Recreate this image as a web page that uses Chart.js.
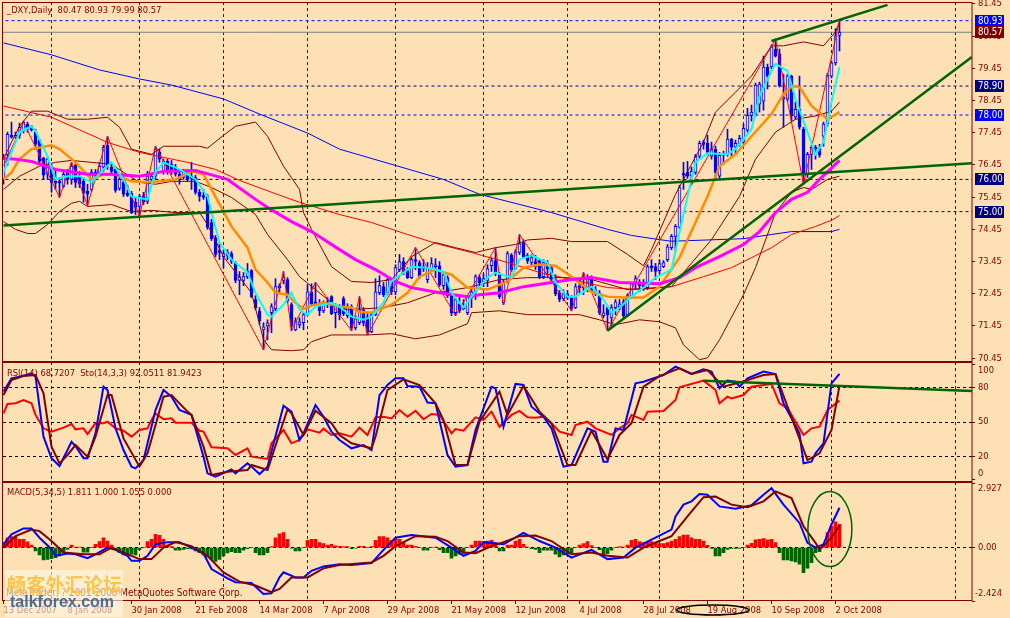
<!DOCTYPE html>
<html>
<head>
<meta charset="utf-8">
<title>DXY Daily</title>
<script src="https://cdn.jsdelivr.net/npm/chart.js@4/dist/chart.umd.min.js"></script>
<style>
  html, body { margin: 0; padding: 0; background: #fde1b4; }
  canvas { display: block; }
</style>
</head>
<body>
<canvas id="myChart" width="1010" height="618"></canvas>
<script>
// candles, one entry per trading day
const opens = [
  76.00,76.78,77.37,77.31,77.37,77.50,77.72,77.65,77.47,77.22,
  76.66,76.16,76.38,75.94,75.94,75.78,76.22,76.00,76.44,76.10,
  75.94,75.63,75.69,76.22,76.22,76.38,77.06,76.38,76.31,75.72,
  75.91,75.57,75.57,75.29,75.16,75.50,75.32,76.00,76.10,76.84,
  76.25,76.56,76.47,76.38,76.16,76.06,76.25,76.10,76.06,75.60,
  75.50,75.47,74.66,74.19,73.79,73.60,73.73,73.70,73.42,72.86,
  72.86,72.98,73.17,72.27,71.92,71.33,71.45,71.86,71.99,72.70,
  72.86,72.89,72.11,71.33,71.49,71.55,71.80,72.51,72.20,72.14,
  71.92,72.20,72.36,71.86,72.08,72.30,71.77,72.05,71.39,71.55,
  71.95,71.73,71.27,71.80,72.48,72.67,72.48,72.82,72.51,73.20,
  73.45,73.17,72.95,73.51,73.42,73.29,72.89,73.23,73.29,73.32,
  72.70,72.95,72.42,71.86,72.14,72.05,71.86,72.33,72.51,72.95,
  72.82,72.86,73.32,73.48,73.04,72.17,72.82,73.64,73.23,73.73,
  74.04,73.64,73.42,73.45,73.48,72.98,73.42,73.26,72.89,72.48,
  72.30,72.45,72.33,72.02,72.70,72.70,72.64,72.95,72.58,72.48,
  71.77,72.02,71.70,72.02,72.05,72.20,71.80,72.36,72.76,72.76,
  72.80,72.64,73.32,73.29,73.17,73.29,73.51,73.88,74.23,74.51,
  76.19,76.22,76.10,76.22,76.72,77.16,77.12,76.72,76.94,76.10,
  76.81,76.78,77.25,77.00,77.12,77.16,77.53,77.99,78.03,78.34,
  78.43,79.49,79.49,80.05,79.90,78.49,78.49,79.21,77.93,78.18,
  77.56,76.16,76.78,77.00,76.97,77.34,77.72,79.21,79.62,80.47
];
const closes = [
  76.63,77.40,77.31,77.37,77.62,77.78,77.56,77.53,77.09,76.56,
  76.13,76.63,75.91,75.88,75.88,76.16,76.00,76.41,75.91,75.85,
  75.57,75.54,76.22,76.10,76.41,77.00,76.41,76.25,75.66,76.00,
  75.54,75.50,74.97,75.13,75.47,75.29,76.10,76.10,76.94,76.63,
  76.56,76.25,76.31,76.16,76.00,76.22,76.00,76.03,75.60,75.47,
  75.44,74.51,74.16,73.67,73.73,73.70,73.64,73.45,72.86,72.98,
  72.98,73.14,72.36,72.02,71.61,71.42,71.55,72.05,72.67,72.64,
  72.95,72.23,71.45,71.61,71.58,71.80,72.51,72.14,72.14,71.92,
  72.17,72.14,71.83,72.08,71.80,71.83,72.02,71.39,71.67,71.95,
  71.55,71.27,71.80,72.51,72.70,72.42,72.89,72.51,73.26,73.45,
  73.11,72.95,73.51,73.45,72.98,73.23,73.26,73.39,73.35,72.73,
  73.04,72.39,71.86,72.27,71.92,71.99,72.36,72.51,72.98,72.79,
  72.92,73.23,73.48,73.07,72.36,72.82,73.70,73.20,73.76,74.01,
  73.60,73.48,73.57,73.29,72.98,73.42,73.23,72.92,72.45,72.27,
  72.45,72.33,71.99,72.67,72.64,72.64,72.95,72.55,72.45,71.86,
  71.86,71.80,72.02,72.20,72.14,71.77,72.39,72.76,72.92,72.70,
  72.64,73.29,73.26,73.14,73.39,73.42,73.91,74.23,74.54,75.75,
  76.13,76.10,76.25,76.72,77.12,77.09,76.84,76.94,76.22,76.75,
  76.75,77.25,77.00,77.12,77.28,77.59,77.99,78.09,78.93,78.96,
  79.49,79.21,80.11,79.83,78.90,78.56,79.21,77.97,78.18,77.62,
  76.16,76.78,77.00,76.94,76.75,77.72,79.24,79.62,80.46,80.57
];
const highs = [
  76.78,77.47,77.78,77.47,77.75,77.81,77.78,77.68,77.56,77.25,
  76.69,76.69,76.47,76.25,76.06,76.31,76.31,76.53,76.50,76.25,
  76.06,75.85,76.31,76.31,76.53,77.06,77.34,76.47,76.38,76.06,
  76.00,75.82,75.63,75.44,75.54,75.60,76.25,76.16,77.03,76.94,
  76.63,76.63,76.59,76.47,76.25,76.31,76.31,76.53,76.13,75.69,
  75.69,75.54,74.76,74.26,74.04,73.82,73.82,73.76,73.45,73.14,
  73.11,73.39,73.20,72.39,72.02,71.55,71.64,72.14,72.92,72.76,
  73.14,72.95,72.17,71.70,71.70,71.86,72.73,72.76,72.80,72.27,
  72.23,72.33,72.39,72.14,72.11,72.36,72.14,72.11,71.77,72.36,
  72.02,71.83,71.86,72.92,73.01,72.80,72.92,72.89,73.35,73.67,
  73.57,73.26,73.57,73.88,73.48,73.51,73.42,73.57,73.54,73.45,
  73.14,73.01,72.48,72.33,72.39,72.27,72.39,72.58,73.04,73.04,
  73.07,73.35,73.57,73.88,73.11,72.89,73.76,73.70,73.82,74.29,
  74.13,73.70,73.67,73.64,73.51,73.51,73.48,73.32,73.04,72.55,
  72.58,72.55,72.39,72.76,72.89,73.11,73.04,73.01,72.67,72.55,
  72.11,72.08,72.11,72.27,72.27,72.27,72.45,72.80,73.01,72.89,
  72.89,73.35,73.51,73.39,73.51,73.48,73.98,74.29,74.60,75.82,
  76.53,76.56,76.38,76.78,77.19,77.22,77.37,77.16,77.03,76.84,
  76.88,77.56,77.28,77.22,77.37,77.72,78.21,78.31,78.99,79.02,
  79.83,79.58,80.18,80.36,80.05,79.27,79.27,79.24,78.40,79.21,
  77.62,76.84,77.06,77.06,77.09,77.78,79.30,79.68,80.68,80.93
];
const lows = [
  75.85,76.44,77.28,77.28,77.28,77.44,77.47,77.50,77.03,76.47,
  76.00,76.00,75.60,75.69,75.44,75.75,75.85,75.85,75.75,75.75,
  75.29,75.19,75.63,76.00,76.10,76.25,76.31,76.19,75.60,75.66,
  75.47,75.47,74.94,74.91,74.85,75.22,75.25,75.91,76.00,76.53,
  76.16,76.16,76.16,76.10,75.85,76.00,75.94,75.69,75.54,75.32,
  75.38,74.45,74.10,73.60,73.51,73.26,73.51,73.39,72.79,72.42,
  72.70,72.92,72.33,71.95,71.49,70.71,71.02,71.24,71.92,72.51,
  72.76,72.17,71.30,71.30,71.39,71.33,71.77,72.08,72.08,71.77,
  71.86,72.02,71.80,71.39,71.64,71.77,71.70,71.30,71.33,71.49,
  71.45,71.17,71.24,71.77,72.42,72.36,72.42,72.42,72.42,73.14,
  73.04,72.92,72.92,73.20,72.92,73.14,72.79,73.14,72.95,72.67,
  72.58,72.33,71.77,71.77,71.86,71.95,71.80,72.02,72.27,72.64,
  72.67,72.67,73.14,73.01,72.30,72.11,72.79,73.14,73.20,73.67,
  73.54,73.39,73.35,73.20,72.92,72.92,72.98,72.86,72.39,72.20,
  72.23,72.27,71.92,71.99,72.42,72.42,72.51,72.51,72.39,71.80,
  71.70,71.30,71.42,71.80,71.95,71.70,71.77,72.30,72.58,72.51,
  72.55,72.58,73.14,72.89,73.07,73.26,73.45,73.82,73.76,74.48,
  75.69,76.03,75.85,76.16,76.63,76.94,76.78,76.63,76.00,76.03,
  76.47,76.72,76.72,76.78,77.03,77.09,77.47,77.81,77.97,78.09,
  78.15,78.81,79.43,79.80,78.87,77.62,78.43,77.81,77.87,77.56,
  75.85,76.06,76.31,76.63,76.69,77.03,77.65,79.15,79.55,79.99
];
const macdHist = [
  .23,.45,.5,.5,.38,.38,.26,.12,-.15,-.33,
  -.56,-.53,-.5,-.45,-.38,-.23,-.08,.12,.03,.02,
  -.21,-.21,0,.15,.27,.45,.3,.12,-.08,-.23,
  -.33,-.27,-.3,-.33,-.09,0,.27,.38,.6,.56,
  .38,.12,.05,-.12,-.12,-.08,-.05,-.06,-.15,-.23,
  -.33,-.42,-.53,-.63,-.53,-.38,-.24,-.18,-.23,-.23,
  -.12,-.05,0,-.23,-.33,-.33,-.23,.05,.45,.63,
  .68,.38,-.02,-.15,-.15,0,.33,.38,.38,.23,
  .18,.12,.15,.08,.06,.05,.05,-.05,-.02,.06,
  .06,0,.05,.33,.5,.5,.45,.33,.41,.38,
  .23,.12,.12,.06,0,-.12,-.12,0,.03,-.09,
  -.23,-.23,-.48,-.38,-.3,-.26,0,.12,.3,.3,
  .27,.3,.33,.23,-.15,-.15,.12,.12,.3,.38,
  .15,.02,-.05,-.08,-.23,-.12,-.12,-.12,-.3,-.42,
  -.33,-.3,-.23,0,.12,.18,.27,.09,0,-.09,
  -.27,-.27,-.12,0,.05,.03,.12,.33,.38,.27,
  .23,.26,.27,.23,.18,.18,.23,.3,.38,.5,
  .57,.57,.45,.38,.38,.3,.11,-.03,-.38,-.38,
  -.23,-.08,-.03,-.03,-.03,0,.12,.2,.35,.38,
  .41,.35,.38,.23,-.23,-.56,-.56,-.6,-.65,-.75,
  -1.13,-.93,-.68,-.23,-.18,.12,.68,.98,1.17,1.06
];

// price overlays, as [bar index] and [value]
const blueMaX = [0,12,24,34,42,55,64,76,84,110,119,137,151,157,164,167,185,192,197,207,209];
const blueMaY = [80.24,79.87,79.4,79.12,78.93,78.5,78.03,77.44,76.94,76,75.54,74.97,74.45,74.26,74.13,74.08,74.16,74.29,74.38,74.38,74.45];
const redMaX = [0,12,26,34,46,53,59,67,74,84,92,101,109,117,126,134,142,151,159,167,175,182,187,192,197,203,207,209];
const redMaY = [78.28,77.93,77.15,76.84,76.53,76.31,75.97,75.6,75.29,74.91,74.66,74.29,73.98,73.73,73.42,73.11,72.89,72.64,72.58,72.67,72.98,73.26,73.57,73.88,74.29,74.54,74.73,74.88];
const orangeX = [0,2,4,7,12,14,18,22,25,28,32,36,39,43,47,50,52,55,57,61,63,66,68,71,73,75,77,80,84,87,89,92,97,101,104,108,112,116,121,126,130,134,138,142,147,151,155,160,164,169,171,176,179,183,187,192,195,197,199,202,206,209];
const orangeY = [76,76.22,76.63,76.94,77.06,76.94,76.53,76,76.16,76.16,75.94,75.91,75.94,76,76.25,76.16,75.69,75,74.54,73.88,73.2,72.8,72.48,72.42,72.17,71.98,72.08,72.17,72.05,72.02,71.89,71.86,72.11,72.48,72.98,73.2,73.04,72.64,72.58,72.83,73.26,73.36,73.32,72.98,72.51,72.36,72.33,72.33,72.67,73.57,74.13,75.47,76.41,76.78,77.34,78.03,78.65,78.9,78.87,78.28,77.87,78.09];
const cyanX = [0,2,4,7,8,11,13,16,19,22,25,27,30,32,36,38,40,44,48,51,52,54,57,61,63,66,67,70,72,74,76,78,82,84,87,90,92,95,97,102,106,110,112,115,117,121,123,127,129,132,136,138,141,143,147,150,152,154,157,160,163,167,169,171,173,176,181,183,187,189,192,193,196,198,201,203,205,207,209];
const cyanY = [76.22,76.84,77.47,77.65,77.5,76.72,76,76.1,76.1,75.91,76.31,76.53,76,75.47,75.38,76.22,76.53,76.31,76,75.47,74.97,74.04,73.51,73.11,72.48,71.8,71.74,72.11,72.48,71.95,71.8,72.05,72.17,72.05,71.74,71.64,71.74,72.17,72.83,73.29,73.26,73.14,72.48,72.02,72.36,72.95,73.11,72.95,73.51,73.64,73.42,72.8,72.36,72.36,72.67,72.27,71.86,72.02,72.36,72.64,72.95,73.2,74.35,75.47,76.53,76.81,76.78,76.94,77.56,78.59,79.37,79.59,79.37,78.49,77.47,76.78,77.16,78.4,79.49];
const magentaX = [0,3,7,13,21,27,34,40,48,56,63,66,72,77,84,88,93,98,102,109,116,119,124,130,137,142,147,154,164,169,173,179,185,189,193,197,201,204,209];
const magentaY = [76.66,76.63,76.56,76.31,76.16,76.16,76.1,76.25,76.28,76,75.38,75.13,74.69,74.38,73.82,73.51,73.2,72.83,72.64,72.48,72.36,72.42,72.48,72.67,72.8,72.89,72.95,72.8,72.76,72.95,73.26,73.6,73.98,74.38,74.97,75.38,75.6,76,76.59];
const bbUpperX = [0,2,4,7,11,16,21,26,29,32,37,40,49,51,55,58,63,66,70,74,75,77,82,87,92,97,102,108,113,118,123,128,131,137,142,151,156,160,162,168,172,175,178,183,187,192,195,200,205,208,209];
const bbUpperY = [76.63,77.16,77.65,78.12,78.12,77.87,77.87,77.93,77.62,76.94,76.78,77.03,77.03,76.97,77.37,77.65,77.78,77.34,76.41,75.69,74.97,74.45,73.29,72.83,72.8,72.89,73.6,74.04,73.88,73.73,73.88,73.98,74.12,74.17,74.07,74.07,73.67,73.32,73.82,75.54,76.47,77.16,78.09,78.71,79.21,80.15,80.15,80.27,80.15,80.58,80.9];
const bbMidX = [0,4,9,13,17,22,27,30,34,38,42,48,52,57,63,66,71,74,78,82,86,95,101,108,116,124,131,141,147,156,167,177,184,188,193,198,203,207,209];
const bbMidY = [75.69,76.1,76.41,76.53,76.59,76.53,76.47,76.22,75.91,75.85,75.94,75.94,75.75,75.44,74.91,74.29,73.51,72.98,72.58,72.17,71.95,72.02,72.17,72.48,72.64,72.89,72.95,72.95,72.89,72.58,72.67,74.13,75.47,76.63,77.47,77.87,77.97,78.12,78.4];
const bbLowerX = [0,3,6,8,11,14,17,19,21,27,32,37,43,49,51,55,62,65,67,72,75,77,82,91,97,103,109,116,117,124,131,144,149,153,159,164,168,170,174,176,179,185,188,193,197,200,202,206,209];
const bbLowerY = [74.69,74.45,74.32,74.32,74.6,75,75.26,75.32,75.16,75.22,75,75.04,74.97,74.97,74.6,73.6,72.48,71.02,70.71,70.68,70.71,70.96,71.17,71.17,71.21,71.05,71.17,71.52,71.86,71.92,71.8,71.8,71.64,71.49,71.64,71.58,71.39,70.86,70.4,70.46,71.02,72.42,73.26,74.97,75.6,75.75,75.69,76,76.1];
const zigzagX = [0,5,14,17,21,26,34,38,65,70,72,78,87,89,91,103,113,123,125,129,142,145,151,193,200,209];
const zigzagY = [76.41,77.78,75.44,76.53,75.19,77.34,74.85,77.03,70.71,73.14,71.3,72.8,71.3,72.36,71.17,73.88,71.77,73.88,72.11,74.29,71.92,73.11,71.3,80.36,75.85,80.93];

// RSI / Stochastic pane
const rsiX = [0,1,3,5,7,8,10,12,15,17,18,20,21,23,25,26,28,30,32,34,36,37,38,40,42,43,47,49,50,52,56,58,61,62,66,67,70,72,74,76,79,80,82,84,87,89,91,93,95,97,99,101,103,105,107,109,112,113,115,118,120,122,124,127,129,131,133,135,137,139,142,143,146,148,152,154,156,157,160,161,165,168,169,175,178,179,181,182,185,187,192,194,196,197,200,202,204,206,209];
const rsiY = [57.6,65.8,66.4,69.3,66.4,56.2,44.5,41.6,45.1,48.3,43.6,44.5,39.5,48.9,48.9,50.3,44.5,42.4,37.2,43,44.5,51.8,57.6,52.4,53.2,49.4,49.4,42.4,41.6,27.9,27,21.2,27,19.7,17.7,31.4,43,31.4,34.3,43.6,40.7,44.2,38.7,40.1,37.2,45.1,38.7,54.1,54.7,53.2,60.5,54.7,59.9,52.4,57,56.2,40.1,43.9,42.4,54.1,51.8,59.1,45.9,56.2,59.7,54.1,53.8,54.7,48.9,41.6,38.7,47.4,50.3,44.5,38.7,44.5,48.9,56.2,51.8,59.1,59.7,69.3,80.4,86.2,78,66.4,72.2,70.7,73.6,80.9,83.3,66.4,62,56.2,38.7,44.5,45.9,60.5,68.72];
const stoX = [0,2,4,7,8,10,12,14,16,17,18,20,21,23,25,26,28,30,32,33,35,38,40,42,44,47,50,51,53,57,58,61,62,64,66,70,72,74,75,78,80,82,84,87,90,92,94,96,98,100,101,104,106,108,111,113,116,118,122,123,125,128,130,132,135,137,140,142,146,148,150,151,153,155,158,160,165,168,172,175,177,179,181,183,184,186,190,193,195,199,200,202,203,205,207,209];
const stoY = [76.6,88.2,89.7,92.6,89.7,37.2,18.3,11.5,25.5,32.8,29,18.3,18.3,40.1,80.9,78,44.5,25.5,11,9.5,16.8,60.5,78,72.2,60.5,56.2,19.7,5.1,2.2,8.6,5.1,13.9,11,4.5,11,64.3,59.1,34.3,40.1,64.9,54.7,41.6,34.3,27,29.9,25.5,73.6,82.4,88.2,88.2,81.5,80.9,67,66.4,21.2,11,12.4,43,80.9,79.5,45.9,83.3,82.4,63.4,54.7,44.5,11,12.4,44.5,41.6,15.3,15.3,44.5,43,83.8,85.3,91.1,98.4,92,96.1,94.1,79.5,86.2,85.3,80.9,88.2,94.1,92,66.4,40.1,13.9,15.3,22.6,31.4,83.8,92.05];
const stoSigX = [0,2,5,8,10,12,14,16,18,21,23,26,27,30,34,36,40,42,46,47,50,52,56,61,62,66,71,72,75,78,82,84,87,92,93,96,100,104,108,110,113,116,119,124,126,130,134,137,141,143,147,151,154,157,160,164,169,172,176,180,184,190,193,196,201,204,207,209];
const stoSigY = [73.6,86.8,90.2,91.1,75.1,28.5,13.9,21.2,29.9,19.7,37.2,73.6,73.6,35.7,11,22.6,72.2,73.6,59.1,56.2,28.5,3.7,6.6,8,12.4,8,61.1,57.6,38.7,59.9,48.9,38.7,31.4,27,37.2,78,87.3,82.4,66.4,51.8,12.4,12.4,50.3,76.6,56.2,81.5,59.1,48.9,12.4,12.4,42.4,17.4,38.7,48.9,80.9,90.2,97,92,95.5,80.9,84.5,91.1,92,63.4,16.8,22.6,43,81.94];

// MACD pane
const macdX = [0,2,5,7,9,12,13,16,18,21,23,26,28,31,32,34,36,38,41,44,47,50,52,56,58,62,65,67,69,70,73,75,77,80,84,87,92,95,98,102,108,112,115,118,120,125,130,134,138,142,147,151,155,158,163,167,168,170,172,174,176,179,183,187,190,192,195,199,201,203,205,207,209];
const macdY = [.15,.6,.87,.87,.45,-.07,-.37,-.27,-.3,-.48,-.3,0,-.1,-.37,-.6,-.6,-.37,.15,.25,.25,0,-.27,-.97,-1.39,-1.57,-1.6,-2.1,-2.07,-1.35,-1.12,-1.35,-1.35,-1.05,-.85,-.75,-.79,-.7,-.1,.45,.57,.45,0,-.37,-.15,.25,.15,.67,.3,0,-.45,-.1,-.52,-.45,0,.45,.82,1.42,1.95,2.1,2.43,2.4,1.87,1.77,1.92,2.4,2.7,1.95,1.12,.22,0,.15,1.05,1.811];
const signalX = [0,3,7,9,12,15,20,24,27,32,34,37,40,43,47,51,55,59,63,67,69,72,76,80,84,92,95,98,103,108,111,115,118,122,125,129,133,137,142,147,151,156,160,164,167,171,175,178,182,186,190,193,197,200,203,204,205,207,209];
const signalY = [0,.52,.82,.75,.3,-.22,-.3,-.3,0,-.37,-.52,-.52,0,.25,.07,-.37,-1.12,-1.54,-1.72,-2.02,-1.87,-1.35,-1.35,-.94,-.79,-.67,-.37,.07,.52,.49,.3,-.22,-.25,.07,.25,.52,.55,.3,-.3,-.22,-.37,-.45,0,.3,.52,1.42,2.29,2.32,1.95,1.83,2.1,2.55,2.25,.97,.22,-.07,.07,.45,1.0];

// hand drawn lines and levels
const trendX = [[192,221],[151,242.1],[0,242.1]];
const trendY = [[80.30,81.42],[71.30,79.80],[74.57,76.50]];
const rsiTrendX = [175,242.1];
const rsiTrendY = [86.2,77.1];
const levelValues = [80.93,78.90,78.00,76.00,75.00,80.57];
const levelColors = ['#0000ff','#000080','#0000ff','#000080','#000080','#808080'];

// axes
const priceTicks = [70.45,71.45,72.45,73.45,74.45,75.45,76.45,77.45,78.45,79.45,80.45,81.45];
const rsiTicks = [0,20,50,80,100];
const macdTicks = [-2.424,0,2.927];
const dateBars = [0,16,32,48,64,80,96,112,128,144,160,176,192,208];
const dateLabels = ['13 Dec 2007','8 Jan 2008','30 Jan 2008','21 Feb 2008','14 Mar 2008','7 Apr 2008','29 Apr 2008','21 May 2008','12 Jun 2008','4 Jul 2008','28 Jul 2008','19 Aug 2008','10 Sep 2008','2 Oct 2008'];
const monthBars = [12,34,55,76,98,120,141,164,185,207,238];

const BG = '#fde1b4';
const FRAME = '#800000';
const FONT = '"DejaVu Sans Condensed", "DejaVu Sans", sans-serif';
const FONT_SIZE = 9.3;

function pts(xs, ys) {
  return xs.map((x, i) => ({ x: x, y: ys[i] }));
}

let layer = 100;
function line(xs, ys, color, width, axis) {
  return {
    type: 'line',
    data: pts(xs, ys),
    borderColor: color,
    borderWidth: width,
    pointRadius: 0,
    tension: 0,
    yAxisID: axis || 'y',
    order: layer--
  };
}

const datasets = [];
levelValues.forEach((v, i) => {
  const d = line([-1, 243], [v, v], levelColors[i], 1);
  if (i < 5) d.borderDash = [3, 3];
  datasets.push(d);
});

datasets.push({
  type: 'bar',
  data: highs.map((h, i) => ({ x: i, y: [lows[i], h] })),
  backgroundColor: '#0000ff',
  barThickness: 1,
  yAxisID: 'y',
  order: layer--
});
datasets.push({
  type: 'bar',
  data: opens.map((o, i) => ({ x: i, y: [Math.min(o, closes[i]), Math.max(o, closes[i])] })),
  backgroundColor: opens.map((o, i) => closes[i] >= o ? BG : '#0000ff'),
  borderColor: '#0000ff',
  borderWidth: 1,
  borderSkipped: false,
  barThickness: 3,
  yAxisID: 'y',
  order: layer--
});

datasets.push(line(blueMaX, blueMaY, '#0000ff', 1));
datasets.push(line(redMaX, redMaY, '#ff0000', 1));
datasets.push(line(bbUpperX, bbUpperY, '#800000', 1));
datasets.push(line(bbMidX, bbMidY, '#800000', 1));
datasets.push(line(bbLowerX, bbLowerY, '#800000', 1));
datasets.push(line(zigzagX, zigzagY, '#ff0000', 1));
datasets.push(line(orangeX, orangeY, '#ff8c00', 2.5));
datasets.push(line(magentaX, magentaY, '#ff00ff', 3));
datasets.push(line(cyanX, cyanY, '#00ffff', 2));
trendX.forEach((xs, i) => datasets.push(line(xs, trendY[i], '#006400', 2.5)));

datasets.push(line(rsiX, rsiY, '#ff0000', 2, 'yRsi'));
datasets.push(line(stoX, stoY, '#0000ff', 2, 'yRsi'));
datasets.push(line(stoSigX, stoSigY, '#800000', 2, 'yRsi'));
datasets.push(line(rsiTrendX, rsiTrendY, '#006400', 2.5, 'yRsi'));

datasets.push({
  type: 'bar',
  data: macdHist.map((v, i) => ({ x: i, y: v })),
  backgroundColor: macdHist.map(v => v >= 0 ? '#ff0000' : '#006400'),
  barThickness: 3,
  yAxisID: 'yMacd',
  order: layer--
});
datasets.push(line(macdX, macdY, '#0000ff', 2, 'yMacd'));
datasets.push(line(signalX, signalY, '#800000', 2, 'yMacd'));

function setTicks(values) {
  return scale => { scale.ticks = values.map(v => ({ value: v })); };
}
function fixWidth(scale) {
  scale.width = 38;
  scale.paddingTop = 0;
  scale.paddingBottom = 0;
}

const tags = [
  ['80.93', 80.93, '#0000ff'],
  ['80.57', 80.57, '#800000'],
  ['78.90', 78.90, '#000080'],
  ['78.00', 78.00, '#0000ff'],
  ['76.00', 76.00, '#000080'],
  ['75.00', 75.00, '#000080']
];
const watermark = ['畅', '客', '外', '汇', '论', '坛'];

const panelPlugin = {
  id: 'panels',
  afterDraw(chart) {
    const c = chart.ctx;
    const s = chart.scales;
    const a = chart.chartArea;

    // pane frames
    c.save();
    c.strokeStyle = FRAME;
    c.lineWidth = 1;
    [s.y, s.yRsi, s.yMacd].forEach(p => {
      c.strokeRect(a.left - 0.5, Math.round(p.top) + 0.5, a.right - a.left + 0.5, Math.round(p.bottom) - Math.round(p.top) - 1);
    });

    // pane captions
    c.fillStyle = FRAME;
    c.font = FONT_SIZE + 'px ' + FONT;
    c.textBaseline = 'middle';
    c.textAlign = 'left';
    c.fillText('_DXY,Daily  80.47 80.93 79.99 80.57', 7, 11);
    c.fillText('RSI(14) 68.7207  Sto(14,3,3) 92.0511 81.9423', 7, 374);
    c.fillText('MACD(5,34,5) 1.811 1.000 1.055 0.000', 7, 493);
    c.font = '9.9px ' + FONT;
    c.fillText('MetaTrader, ? 2001-2008 MetaQuotes Software Corp.', 6, 593);

    // pane end labels sit inside the pane in the terminal
    c.font = FONT_SIZE + 'px ' + FONT;
    c.fillText('100', 978, 371);
    c.fillText('0', 978, 474);
    c.fillText('2.927', 978, 489);
    c.fillText('-2.424', 975, 594);

    // price tags on the axis
    c.font = '9.6px ' + FONT;
    tags.forEach(t => {
      const y = Math.round(s.y.getPixelForValue(t[1]));
      c.fillStyle = t[2];
      c.fillRect(975, y - 6, 29, 12);
      c.fillStyle = '#ffffff';
      c.fillText(t[0], 978, y + 0.5);
    });

    // circles drawn by hand on the chart
    c.strokeStyle = '#006400';
    c.lineWidth = 1.5;
    c.beginPath();
    c.ellipse(s.x.getPixelForValue(206.6), s.yMacd.getPixelForValue(0.84), 22, 37.5, 0, 0, Math.PI * 2);
    c.stroke();
    c.strokeStyle = '#000000';
    c.beginPath();
    c.ellipse(s.x.getPixelForValue(177.3), 610, 36, 5, 0, 0, Math.PI * 2);
    c.stroke();

    // site watermark
    c.fillStyle = 'rgba(255,246,230,0.6)';
    c.fillRect(5, 570, 118, 47);
    c.font = 'bold 19px "Noto Sans CJK SC"';
    c.fillStyle = 'rgba(250,190,50,0.85)';
    watermark.forEach((g, i) => c.fillText(g, 7 + i * 19.2, 585));
    c.font = 'bold 16px "Liberation Sans", sans-serif';
    c.fillStyle = 'rgba(40,90,140,0.85)';
    c.fillText('talkforex.com', 10, 603);
    c.restore();
  }
};

new Chart(document.getElementById('myChart'), {
  type: 'bar',
  data: { datasets: datasets },
  plugins: [panelPlugin],
  options: {
    responsive: false,
    animation: false,
    events: [],
    devicePixelRatio: 1,
    layout: { padding: { left: 3, top: 2 } },
    datasets: { bar: { grouped: false } },
    plugins: { legend: { display: false }, tooltip: { enabled: false }, title: { display: false } },
    scales: {
      x: {
        type: 'linear',
        min: -0.125,
        max: 242.125,
        offset: false,
        afterBuildTicks: setTicks(monthBars.concat(dateBars).sort((a, b) => a - b)),
        afterFit: scale => {
          scale.height = 17;
          scale.paddingLeft = 0;
          scale.paddingRight = 0;
        },
        border: { display: false, dash: [3, 3] },
        grid: {
          offset: false,
          tickLength: 3,
          color: ctx => monthBars.includes(ctx.tick.value) ? FRAME : 'rgba(0,0,0,0)',
          tickColor: ctx => dateBars.includes(ctx.tick.value) ? FRAME : 'rgba(0,0,0,0)',
          tickBorderDash: []
        },
        ticks: {
          autoSkip: false,
          maxRotation: 0,
          align: 'start',
          padding: 1,
          color: FRAME,
          font: { family: FONT, size: FONT_SIZE },
          callback: v => dateBars.includes(v) ? dateLabels[dateBars.indexOf(v)] : ''
        }
      },
      y: {
        type: 'linear',
        position: 'right',
        stack: 'panes',
        stackWeight: 360,
        min: 70.33,
        max: 81.51,
        afterBuildTicks: setTicks(priceTicks),
        afterFit: fixWidth,
        border: { display: false },
        grid: { drawOnChartArea: false, tickColor: FRAME, tickLength: 3 },
        ticks: {
          padding: 3,
          color: FRAME,
          font: { family: FONT, size: FONT_SIZE },
          callback: v => v.toFixed(2)
        }
      },
      yRsi: {
        type: 'linear',
        position: 'right',
        stack: 'panes',
        stackWeight: 119.5,
        min: -2,
        max: 102.5,
        afterBuildTicks: setTicks(rsiTicks),
        afterFit: fixWidth,
        border: { display: false, dash: [3, 3] },
        grid: {
          color: ctx => [20, 50, 80].includes(ctx.tick.value) ? '#000000' : 'rgba(0,0,0,0)',
          tickColor: FRAME,
          tickLength: 3,
          tickBorderDash: []
        },
        ticks: {
          padding: 3,
          color: FRAME,
          font: { family: FONT, size: FONT_SIZE },
          callback: v => (v === 0 || v === 100) ? '' : String(v)
        }
      },
      yMacd: {
        type: 'linear',
        position: 'right',
        stack: 'panes',
        stackWeight: 119.5,
        min: -2.42,
        max: 3.0,
        afterBuildTicks: setTicks(macdTicks),
        afterFit: fixWidth,
        border: { display: false, dash: [3, 3] },
        grid: {
          color: ctx => ctx.tick.value === 0 ? '#000000' : 'rgba(0,0,0,0)',
          tickColor: FRAME,
          tickLength: 3,
          tickBorderDash: []
        },
        ticks: {
          padding: 3,
          color: FRAME,
          font: { family: FONT, size: FONT_SIZE },
          callback: v => v === 0 ? '0.00' : ''
        }
      }
    }
  }
});
</script>
</body>
</html>
